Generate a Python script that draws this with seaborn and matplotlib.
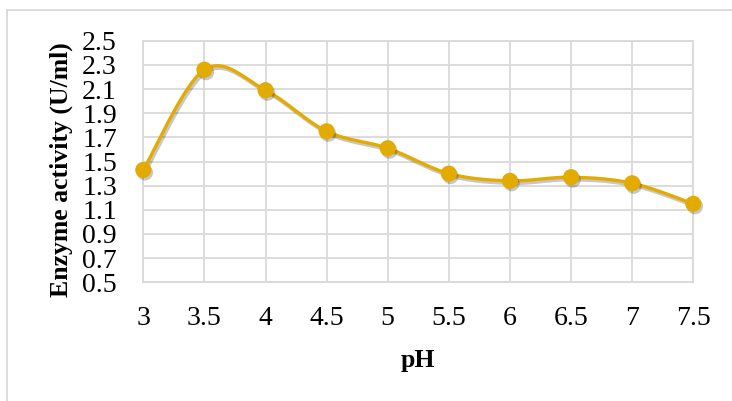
import numpy as np
import pandas as pd
import seaborn as sns
import matplotlib
matplotlib.use("Agg")
import matplotlib.pyplot as plt
from matplotlib import patheffects as pe
from matplotlib.patches import Rectangle

# pH values and measured enzyme activity
ph = [3, 3.5, 4, 4.5, 5, 5.5, 6, 6.5, 7, 7.5]
activity = [1.43, 2.26, 2.09, 1.75, 1.61, 1.40, 1.34, 1.37, 1.32, 1.15]
x_labels = ["3", "3.5", "4", "4.5", "5", "5.5", "6", "6.5", "7", "7.5"]
y_ticks = [0.5, 0.7, 0.9, 1.1, 1.3, 1.5, 1.7, 1.9, 2.1, 2.3, 2.5]

GOLD = "#E3AB00"
GRID = "#D9D9D9"


def smooth_curve(xs, ys, n=40):
    """Catmull-Rom style smoothing (same as a spreadsheet 'smoothed line')."""
    xs = np.asarray(xs, float)
    ys = np.asarray(ys, float)
    px = np.concatenate([[xs[0]], xs, [xs[-1]]])
    py = np.concatenate([[ys[0]], ys, [ys[-1]]])
    out_x, out_y = [], []
    for i in range(1, len(px) - 2):
        p0 = np.array([px[i - 1], py[i - 1]])
        p1 = np.array([px[i], py[i]])
        p2 = np.array([px[i + 1], py[i + 1]])
        p3 = np.array([px[i + 2], py[i + 2]])
        c1 = p1 + (p2 - p0) / 6.0
        c2 = p2 - (p3 - p1) / 6.0
        t = np.linspace(0, 1, n, endpoint=(i == len(px) - 3))[:, None]
        b = ((1 - t) ** 3) * p1 + 3 * ((1 - t) ** 2) * t * c1 + 3 * (1 - t) * t ** 2 * c2 + t ** 3 * p2
        out_x.extend(b[:, 0])
        out_y.extend(b[:, 1])
    return np.array(out_x), np.array(out_y)


sns.set_theme(style="white")
plt.rcParams["font.family"] = ["Liberation Serif", "DejaVu Serif"]

fig = plt.figure(figsize=(7.32, 4.01), dpi=100)
ax = fig.add_axes([143.3 / 732, 1 - 282.3 / 401, 550 / 732, 241.6 / 401])

points = pd.DataFrame({"pH": ph, "activity": activity})
sx, sy = smooth_curve(ph, activity)
curve = pd.DataFrame({"pH": sx, "activity": sy})

shadow_line = [pe.SimpleLineShadow(offset=(1.2, -1.8), shadow_color="#000000", alpha=0.22), pe.Normal()]
sns.lineplot(data=curve, x="pH", y="activity", ax=ax, color=GOLD, linewidth=2.4,
             sort=False, zorder=3, path_effects=shadow_line, clip_on=False)
sc = sns.scatterplot(data=points, x="pH", y="activity", ax=ax, color=GOLD, s=135,
                     edgecolor=GOLD, linewidth=0, zorder=4, clip_on=False)
sc.collections[-1].set_path_effects(
    [pe.SimplePatchShadow(offset=(1.2, -1.8), shadow_rgbFace="#000000", alpha=0.22), pe.Normal()])

ax.set_xlim(3, 7.5)
ax.set_ylim(0.5, 2.5)
ax.set_xticks(ph)
ax.set_xticklabels(x_labels)
ax.set_yticks(y_ticks)
ax.set_yticklabels([f"{v:.1f}" for v in y_ticks])
ax.grid(True, color=GRID, linewidth=1.3)
ax.set_axisbelow(True)
for s in ax.spines.values():
    s.set_visible(True)
    s.set_color(GRID)
    s.set_linewidth(1.3)

ax.tick_params(axis="x", length=0, pad=17, labelsize=20, colors="#000000")
ax.tick_params(axis="y", length=0, pad=19, labelsize=20, colors="#000000")

ax.set_xlabel("pH", fontsize=18.5, fontweight="bold", color="#000000", labelpad=13)
ax.set_ylabel("Enzyme activity (U/ml)", fontsize=18.5, fontweight="bold", color="#000000")
ax.yaxis.set_label_coords(-0.128, 0.465)

# light outer chart frame
fig.patches.append(Rectangle((7 / 732, -0.1), 1.2, 1 - 10 / 401 + 0.1,
                             transform=fig.transFigure, fill=False,
                             edgecolor=GRID, linewidth=1.3, zorder=0))

fig.savefig("out.png", dpi=100, facecolor="white")
